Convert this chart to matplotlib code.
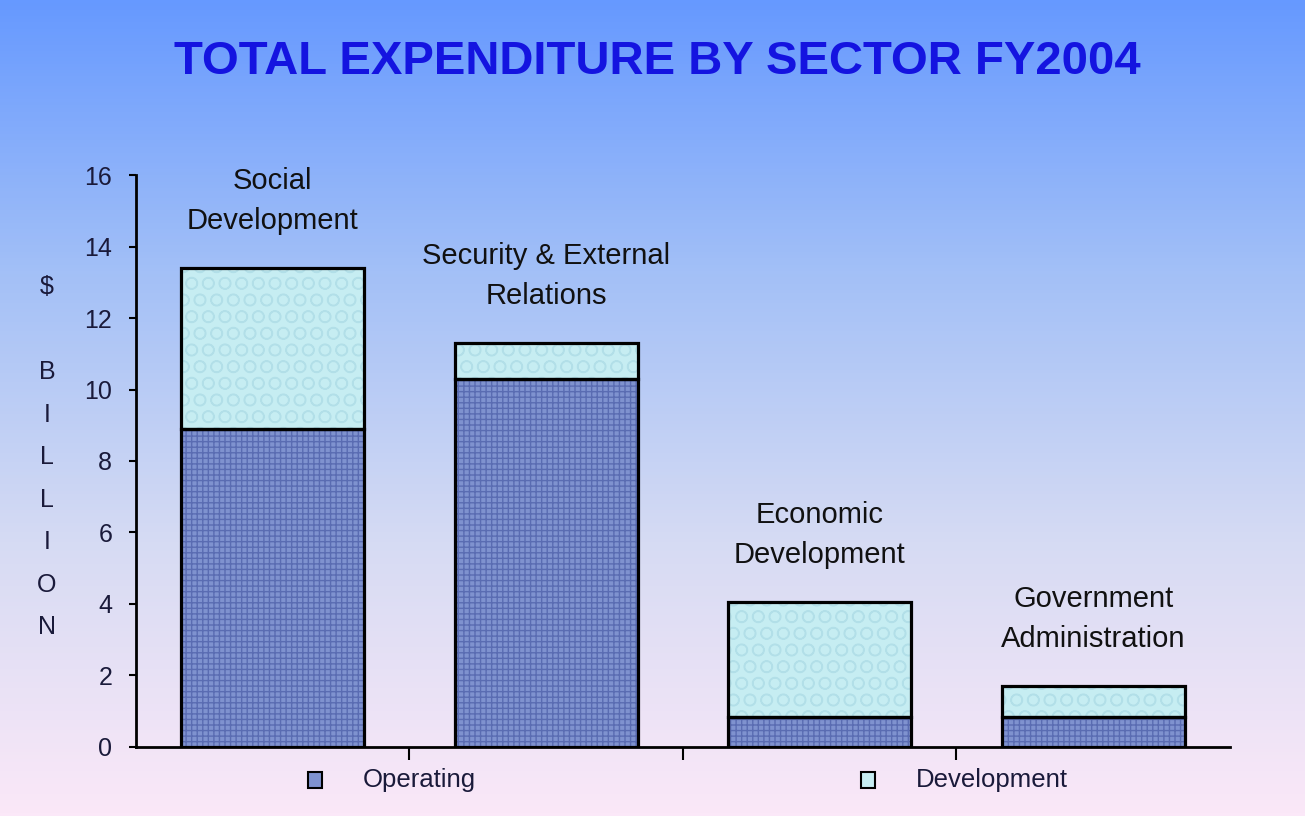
import numpy as np
import matplotlib.pyplot as plt
from matplotlib.patches import Rectangle
from matplotlib.colors import LinearSegmentedColormap

# data ($ billion)
sectors = ["Social\nDevelopment", "Security & External\nRelations",
           "Economic\nDevelopment", "Government\nAdministration"]
operating = [8.9, 10.3, 0.85, 0.85]
development = [4.5, 1.0, 3.2, 0.85]
series_names = ["Operating", "Development"]
yticks = [0, 2, 4, 6, 8, 10, 12, 14, 16]

plt.rcParams['font.family'] = ['Liberation Sans', 'DejaVu Sans']

fig = plt.figure(figsize=(13.05, 8.16), dpi=100)

# gradient background
bg = fig.add_axes([0, 0, 1, 1], zorder=-10)
cmap = LinearSegmentedColormap.from_list(
    "bg", ["#6699ff", "#a3c0f7", "#d6dbf3", "#fbe8f8"])
grad = np.linspace(0, 1, 256).reshape(-1, 1)
bg.imshow(grad, aspect='auto', cmap=cmap, extent=[0, 1, 0, 1], origin='upper')
bg.set_axis_off()

ax = fig.add_axes([0.1042, 0.0846, 0.8383, 0.7009])
ax.patch.set_alpha(0)

x = np.arange(len(sectors))
w = 0.67
totals = [o + d for o, d in zip(operating, development)]

# textured fills (hatch drawn in its own colour, then black outline)
ax.bar(x, operating, w, color='#7f92cf', hatch='+++', edgecolor='#5a6cb2', linewidth=0, zorder=2)
ax.bar(x, development, w, bottom=operating, color='#c6edf2', hatch='O', edgecolor='#b2dfe8',
       linewidth=0, zorder=2)
ax.bar(x, operating, w, fill=False, edgecolor='black', linewidth=2.3, zorder=3)
ax.bar(x, development, w, bottom=operating, fill=False, edgecolor='black', linewidth=2.3, zorder=3)

for xi, t, name in zip(x, totals, sectors):
    ax.annotate(name, (xi, t), xytext=(0, 24), textcoords='offset points',
                ha='center', va='bottom', fontsize=21, linespacing=1.55, color='#111111')

ax.set_xlim(-0.5, len(sectors) - 0.5)
ax.set_ylim(0, 16)
ax.set_yticks(yticks)
ax.set_xticks(x[:-1] + 0.5)
ax.set_xticklabels([])
ax.tick_params(axis='y', direction='out', length=5, width=1.5, pad=12, labelsize=18,
               labelcolor='#1a1a3a')
ax.tick_params(axis='x', direction='out', length=9, width=1.5)
for s in ['top', 'right']:
    ax.spines[s].set_visible(False)
for s in ['left', 'bottom']:
    ax.spines[s].set_linewidth(2)

# vertical "$ BILLION" label
fig.text(47 / 1305, 1 - 287 / 816, "$", ha='center', va='center', fontsize=18, color='#1a1a3a')
for i, ch in enumerate("BILLION"):
    fig.text(47 / 1305, 1 - (372 + i * 42.5) / 816, ch, ha='center', va='center',
             fontsize=18, color='#1a1a3a')

fig.text(0.504, 0.924, "TOTAL EXPENDITURE BY SECTOR FY2004", ha='center', va='center',
         fontsize=34, fontweight='bold', color='#1414e0')

# legend
leg_colors = ['#7f92cf', '#c6edf2']
leg_x = [308, 861]
for lx, c, name in zip(leg_x, leg_colors, series_names):
    fig.patches.append(Rectangle((lx / 1305, 1 - 788 / 816), 14 / 1305, 16 / 816,
                                 transform=fig.transFigure, facecolor=c, edgecolor='black',
                                 linewidth=1.5))
    fig.text((lx + 55) / 1305, 1 - 780 / 816, name, ha='left', va='center',
             fontsize=18.5, color='#1a1a3a')

fig.savefig("out.png", dpi=100)
